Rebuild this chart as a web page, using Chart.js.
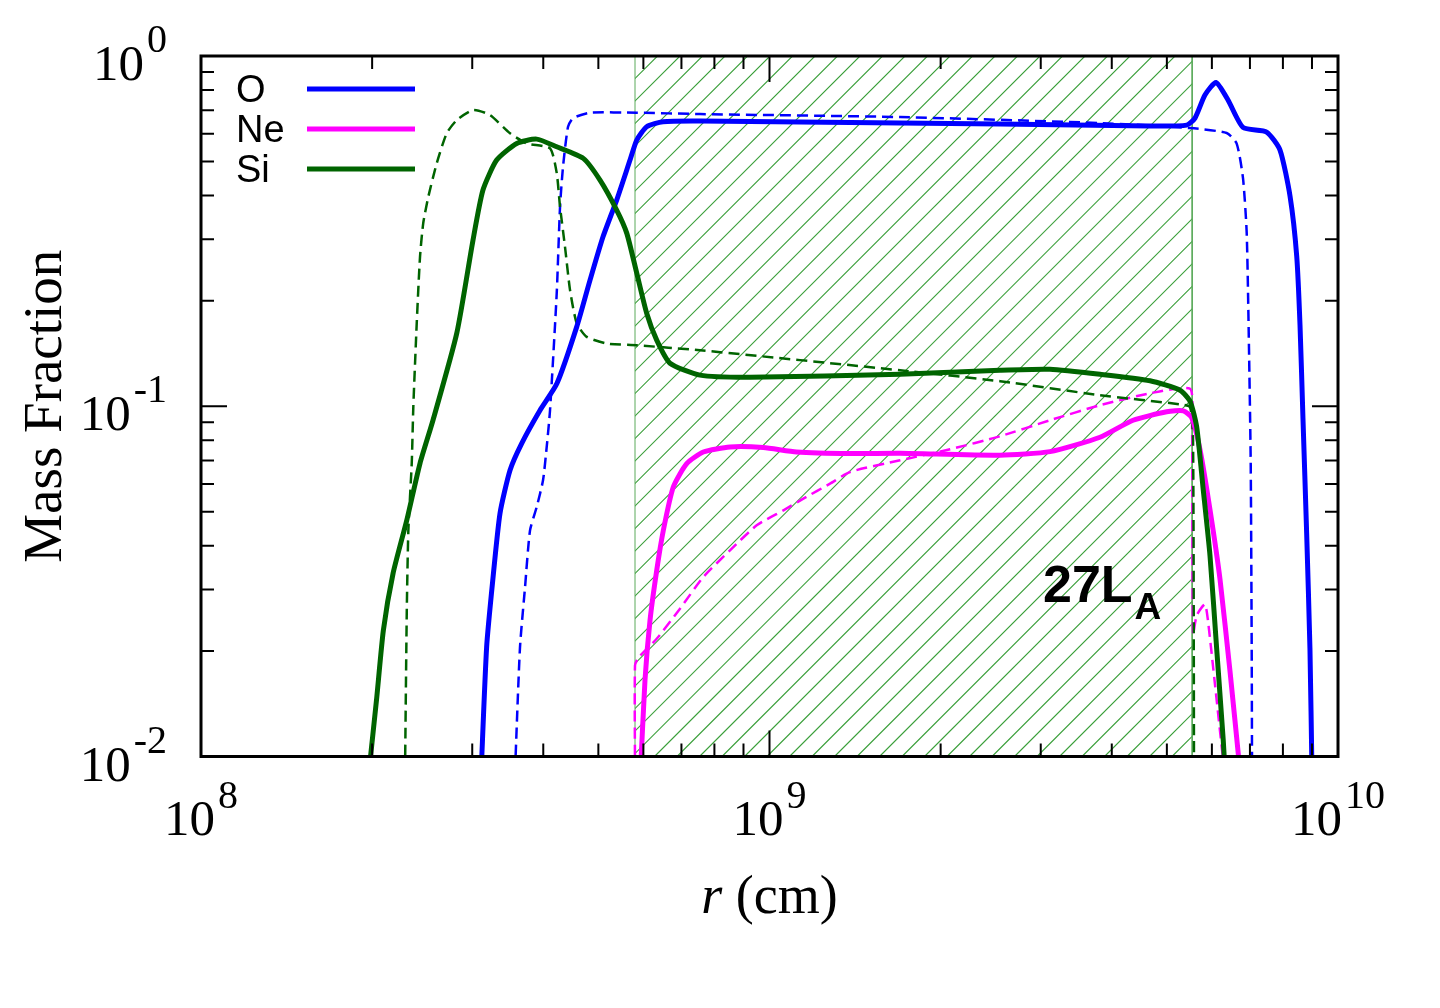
<!DOCTYPE html>
<html><head><meta charset="utf-8">
<script src="https://cdn.jsdelivr.net/npm/chart.js@4.4.1/dist/chart.umd.min.js"></script>
<style>html,body{margin:0;padding:0;background:#fff}canvas{display:block}</style>
</head><body>
<canvas id="c" width="1440" height="1008"></canvas>
<script>
// ---- data: radius r (cm) and mass fraction ----
const oSolidR = [3.11e8, 3.18e8, 3.26e8, 3.357e8, 3.496e8, 3.666e8, 3.948e8, 4.229e8, 4.58e8, 4.834e8, 5.095e8, 5.385e8, 5.684e8, 5.841e8, 6.081e8, 6.496e8, 7.546e8, 1.386e9, 2.544e9, 4.671e9, 5.418e9, 5.603e9, 5.834e9, 6.101e9, 6.405e9, 6.806e9, 7.49e9, 7.907e9, 8.234e9, 8.46e9, 8.574e9, 8.677e9, 8.808e9, 8.926e9, 9.0e9];
const oSolidX = [0.009, 0.02053, 0.03184, 0.04946, 0.06566, 0.07837, 0.09741, 0.1163, 0.1685, 0.2291, 0.3046, 0.3879, 0.5045, 0.5754, 0.6281, 0.6491, 0.652, 0.6457, 0.6393, 0.631, 0.6349, 0.6649, 0.7738, 0.84, 0.7487, 0.6252, 0.6065, 0.5389, 0.3981, 0.2683, 0.1703, 0.09241, 0.04337, 0.02035, 0.009];

const oDashR = [3.567e8, 3.64e8, 3.715e8, 3.791e8, 3.895e8, 3.996e8, 4.056e8, 4.111e8, 4.224e8, 4.281e8, 4.333e8, 4.422e8, 4.513e8, 4.834e8, 5.841e8, 7.546e8, 1.697e9, 3.814e9, 5.493e9, 6.371e9, 6.634e9, 6.806e9, 6.909e9, 6.973e9, 7.022e9, 7.05e9, 7.06e9];
const oDashX = [0.009, 0.02049, 0.0304, 0.04422, 0.05158, 0.06145, 0.07651, 0.09741, 0.2103, 0.3711, 0.4828, 0.6281, 0.6649, 0.6887, 0.6887, 0.6827, 0.6694, 0.6435, 0.6227, 0.6026, 0.5623, 0.448, 0.3121, 0.1464, 0.06873, 0.02035, 0.009];

const siSolidR = [1.975e8, 2.038e8, 2.093e8, 2.177e8, 2.301e8, 2.428e8, 2.559e8, 2.818e8, 3.009e8, 3.133e8, 3.312e8, 3.592e8, 3.895e8, 4.224e8, 4.704e8, 5.034e8, 5.385e8, 5.609e8, 5.841e8, 6.081e8, 6.333e8, 6.683e8, 7.546e8, 9.24e8, 1.697e9, 2.544e9, 3.114e9, 3.814e9, 4.671e9, 5.273e9, 5.493e9, 5.642e9, 5.787e9, 5.955e9, 6.117e9, 6.283e9, 6.33e9];
const siSolidX = [0.0091, 0.01477, 0.02291, 0.03333, 0.04723, 0.06873, 0.0912, 0.1617, 0.2979, 0.4142, 0.5045, 0.5629, 0.579, 0.5505, 0.5102, 0.4422, 0.3631, 0.3121, 0.2399, 0.1843, 0.1544, 0.1327, 0.1227, 0.121, 0.1234, 0.1267, 0.1275, 0.1234, 0.1182, 0.1111, 0.1033, 0.08727, 0.05885, 0.03738, 0.02035, 0.01111, 0.009];

const siDashR = [2.285e8, 2.301e8, 2.316e8, 2.348e8, 2.363e8, 2.396e8, 2.428e8, 2.46e8, 2.511e8, 2.598e8, 2.705e8, 2.818e8, 3.013e8, 3.224e8, 3.496e8, 3.741e8, 4.111e8, 4.224e8, 4.281e8, 4.368e8, 4.458e8, 4.58e8, 4.769e8, 5.172e8, 5.841e8, 7.546e8, 1.697e9, 2.544e9, 3.814e9, 5.273e9, 5.493e9, 5.559e9, 5.581e9];
const siDashX = [0.009, 0.02563, 0.04422, 0.06873, 0.09954, 0.1727, 0.2671, 0.3333, 0.3963, 0.4937, 0.6014, 0.6564, 0.7011, 0.6784, 0.6014, 0.5629, 0.545, 0.4632, 0.3711, 0.2852, 0.2146, 0.1727, 0.1578, 0.151, 0.1493, 0.1445, 0.1267, 0.1179, 0.1075, 0.1013, 0.09934, 0.07992, 0.009];

const neSolidR = [5.93e8, 6.039e8, 6.163e8, 6.333e8, 6.505e8, 6.773e8, 7.151e8, 7.648e8, 8.521e8, 9.752e8, 1.116e9, 1.386e9, 1.697e9, 2.544e9, 3.114e9, 3.814e9, 4.36e9, 4.996e9, 5.345e9, 5.53e9, 5.72e9, 5.955e9, 6.2e9, 6.457e9, 6.723e9];
const neSolidX = [0.009, 0.01649, 0.02446, 0.034, 0.04422, 0.05882, 0.0686, 0.07403, 0.07651, 0.07621, 0.07403, 0.07325, 0.0734, 0.07244, 0.0742, 0.08155, 0.0912, 0.09645, 0.09703, 0.09272, 0.07503, 0.05058, 0.03211, 0.01751, 0.0091];

const neDashR = [5.8e8, 5.8e8, 5.879e8, 6.333e8, 6.959e8, 7.648e8, 8.521e8, 9.495e8, 1.058e9, 1.147e9, 1.278e9, 1.386e9, 1.697e9, 2.078e9, 2.544e9, 3.114e9, 3.814e9, 4.671e9, 5.493e9, 5.537e9, 5.559e9, 5.642e9, 5.834e9, 5.905e9, 6.076e9, 6.3e9];
const neDashX = [0.009, 0.0182, 0.01914, 0.02169, 0.02642, 0.03253, 0.03878, 0.04571, 0.05045, 0.05449, 0.06013, 0.06492, 0.07008, 0.07537, 0.08209, 0.0912, 0.1007, 0.1089, 0.1122, 0.0912, 0.02232, 0.02528, 0.02719, 0.02446, 0.01606, 0.0093];

// hatched region (r range) and its vertical extent
const hatchR = [5.8e8, 5.8e8, 5.54e9, 5.54e9];
const hatchX = [0.009, 1.0, 1.0, 0.009];

// axes / ticks
const xMajorTicks = [1e8, 1e9, 1e10];
const xTickExps = ['8', '9', '10'];
const yMajorTicks = [1e-2, 1e-1, 1];
const yTickExps = ['-2', '-1', '0'];
const minorMult = [2, 3, 4, 5, 6, 7, 8, 9];

const legendNames = ['O', 'Ne', 'Si'];
const legendColors = ['#0000ff', '#ff00ff', '#006400'];
const annotationMain = '27L';
const annotationSub = 'A';
const xTitleItalic = 'r';
const xTitleRest = ' (cm)';
const yTitle = 'Mass Fraction';

const zip = (a, b) => a.map((v, i) => ({x: v, y: b[i]}));

const base = {showLine: true, pointRadius: 0, pointHoverRadius: 0, tension: 0.2, clip: 0, fill: false};

// hatching inside the shaded r-range (positions from the x/y scales)
const hatch = {
  id: 'hatch',
  beforeDatasetsDraw(chart) {
    const {ctx, chartArea: a, scales: {x}} = chart;
    const x0 = x.getPixelForValue(hatchR[0]);
    const x1 = x.getPixelForValue(hatchR[2]);
    const P = 22.5;
    ctx.save();
    ctx.beginPath();
    ctx.rect(x0, a.top, x1 - x0, a.bottom - a.top);
    ctx.clip();
    ctx.strokeStyle = 'rgb(60,160,60)';
    ctx.lineWidth = 1.1;
    ctx.beginPath();
    const h = a.bottom - a.top;
    for (let s = x0 - h - P; s < x1 + P; s += P) {
      ctx.moveTo(s, a.bottom);
      ctx.lineTo(s + h, a.top);
    }
    ctx.stroke();
    ctx.restore();
  }
};

const decor = {
  id: 'decor',
  afterDraw(chart) {
    const {ctx, chartArea: a, scales: {x, y}} = chart;
    ctx.save();
    // ticks
    ctx.strokeStyle = '#000';
    ctx.lineWidth = 2;
    ctx.beginPath();
    const MAJ = 26, MIN = 13;
    xMajorTicks.forEach((v, i) => {
      const p = x.getPixelForValue(v);
      ctx.moveTo(p, a.bottom); ctx.lineTo(p, a.bottom - MAJ);
      ctx.moveTo(p, a.top); ctx.lineTo(p, a.top + MAJ);
      if (i < xMajorTicks.length - 1) {
        minorMult.forEach(m => {
          const q = x.getPixelForValue(v * m);
          ctx.moveTo(q, a.bottom); ctx.lineTo(q, a.bottom - MIN);
          ctx.moveTo(q, a.top); ctx.lineTo(q, a.top + MIN);
        });
      }
    });
    yMajorTicks.forEach((v, i) => {
      const p = y.getPixelForValue(v);
      ctx.moveTo(a.left, p); ctx.lineTo(a.left + MAJ, p);
      ctx.moveTo(a.right, p); ctx.lineTo(a.right - MAJ, p);
      if (i < yMajorTicks.length - 1) {
        minorMult.forEach(m => {
          const q = y.getPixelForValue(v * m);
          ctx.moveTo(a.left, q); ctx.lineTo(a.left + MIN, q);
          ctx.moveTo(a.right, q); ctx.lineTo(a.right - MIN, q);
        });
      }
    });
    ctx.stroke();
    // frame
    ctx.lineWidth = 3;
    ctx.strokeRect(a.left, a.top, a.right - a.left, a.bottom - a.top);

    // tick labels
    ctx.fillStyle = '#000';
    ctx.textBaseline = 'alphabetic';
    ctx.textAlign = 'left';
    const fBase = '51px "Liberation Serif", "Times New Roman", serif';
    const fExp = '40px "Liberation Serif", "Times New Roman", serif';
    const gap = 3;
    function label(exp) {
      ctx.font = fBase; const wb = ctx.measureText('10').width;
      ctx.font = fExp; const we = ctx.measureText(exp).width;
      return {wb, we, w: wb + gap + we};
    }
    xMajorTicks.forEach((v, i) => {
      const p = x.getPixelForValue(v);
      const m = label(xTickExps[i]);
      const s = p - m.w / 2;
      ctx.font = fBase; ctx.fillText('10', s, a.bottom + 78.5);
      ctx.font = fExp; ctx.fillText(xTickExps[i], s + m.wb + gap, a.bottom + 51.5);
    });
    yMajorTicks.forEach((v, i) => {
      const p = y.getPixelForValue(v);
      const m = label(yTickExps[i]);
      const s = a.left - 34 - m.w;
      ctx.font = fBase; ctx.fillText('10', s, p + 24);
      ctx.font = fExp; ctx.fillText(yTickExps[i], s + m.wb + gap, p - 4);
    });

    // axis titles
    ctx.font = '55px "Liberation Serif", "Times New Roman", serif';
    ctx.save();
    ctx.translate(61, (a.top + a.bottom) / 2);
    ctx.rotate(-Math.PI / 2);
    ctx.textAlign = 'center';
    ctx.fillText(yTitle, 0, 0);
    ctx.restore();
    const fIt = 'italic 54px "Liberation Serif", "Times New Roman", serif';
    const fUp = '54px "Liberation Serif", "Times New Roman", serif';
    ctx.font = fIt; const w1 = ctx.measureText(xTitleItalic).width;
    ctx.font = fUp; const w2 = ctx.measureText(xTitleRest).width;
    const cx = (a.left + a.right) / 2;
    const sx = cx - (w1 + w2) / 2;
    ctx.font = fIt; ctx.fillText(xTitleItalic, sx, 913);
    ctx.font = fUp; ctx.fillText(xTitleRest, sx + w1, 913);

    // legend
    ctx.font = '38px "Liberation Sans", Arial, sans-serif';
    legendNames.forEach((n, i) => {
      const yy = a.top + 33 + i * 40;
      ctx.fillStyle = '#000';
      ctx.fillText(n, 236, yy + 12.5);
      ctx.strokeStyle = legendColors[i];
      ctx.lineWidth = 5;
      ctx.beginPath();
      ctx.moveTo(307, yy); ctx.lineTo(415, yy);
      ctx.stroke();
    });

    // annotation
    ctx.fillStyle = '#000';
    ctx.font = 'bold 52px "Liberation Sans", Arial, sans-serif';
    ctx.fillText(annotationMain, 1043, 602);
    const wm = ctx.measureText(annotationMain).width;
    ctx.font = 'bold 37px "Liberation Sans", Arial, sans-serif';
    ctx.fillText(annotationSub, 1043 + wm + 2, 619);
    ctx.restore();
  }
};

new Chart(document.getElementById('c'), {
  type: 'scatter',
  data: {
    datasets: [
      {...base, label: 'Si', data: zip(siSolidR, siSolidX), borderColor: '#006400', borderWidth: 5},
      {...base, label: 'Ne', data: zip(neSolidR, neSolidX), borderColor: '#ff00ff', borderWidth: 5},
      {...base, label: 'O', data: zip(oSolidR, oSolidX), borderColor: '#0000ff', borderWidth: 5},
      {...base, label: 'Si (dashed)', data: zip(siDashR, siDashX), borderColor: '#006400', borderWidth: 2.5, borderDash: [11, 6]},
      {...base, label: 'Ne (dashed)', data: zip(neDashR, neDashX), borderColor: '#ff00ff', borderWidth: 2.5, borderDash: [11, 6]},
      {...base, label: 'O (dashed)', data: zip(oDashR, oDashX), borderColor: '#0000ff', borderWidth: 2.5, borderDash: [11, 6]},
      {...base, label: 'region', data: zip(hatchR, hatchX), tension: 0, borderColor: 'rgb(90,170,90)', borderWidth: 1}
    ]
  },
  options: {
    responsive: false,
    animation: false,
    events: [],
    layout: {padding: {left: 201, right: 102, top: 56, bottom: 251.5}},
    scales: {
      x: {type: 'logarithmic', min: 1e8, max: 1e10, display: false},
      y: {type: 'logarithmic', min: 1e-2, max: 1, display: false}
    },
    plugins: {legend: {display: false}, tooltip: {enabled: false}}
  },
  plugins: [hatch, decor]
});
</script>
</body></html>
